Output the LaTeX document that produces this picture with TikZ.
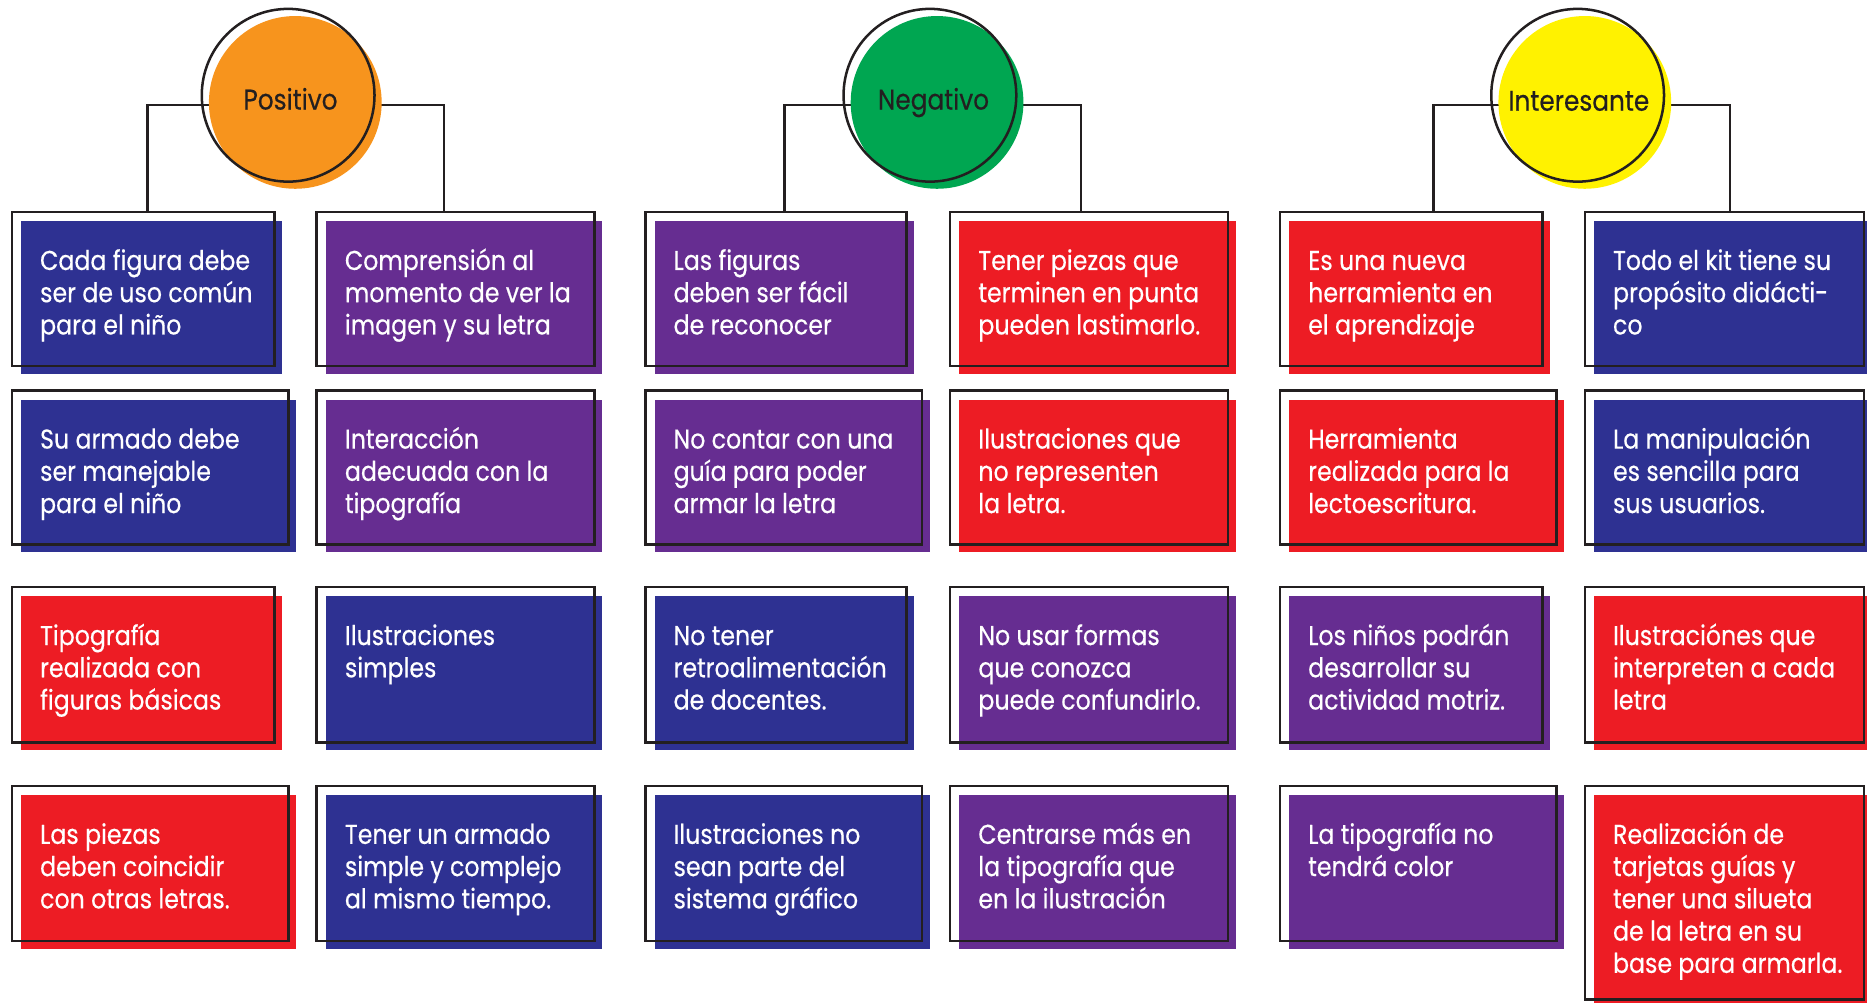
\documentclass[tikz,border=0pt]{standalone}
\usepackage{fontspec}
\setmainfont{Poppins}[FakeStretch=0.87, FakeBold=0.4]
\usetikzlibrary{backgrounds}
\definecolor{cblue}{HTML}{2E3192}
\definecolor{cpurple}{HTML}{662D91}
\definecolor{cred}{HTML}{ED1C24}
\definecolor{corange}{HTML}{F7941D}
\definecolor{cgreen}{HTML}{00A651}
\definecolor{cyellow}{HTML}{FFF200}
\definecolor{cink}{HTML}{231F20}
\tikzset{
  cardfill/.style={rectangle, inner sep=0pt, anchor=north west},
  cardtext/.style={inner sep=0pt, anchor=north west, text=white, align=left,
    font=\fontsize{6.5}{7.7}\selectfont},
  outline/.style={draw=cink, line width=0.6pt},
  conn/.style={draw=cink, line width=0.6pt},
  disc/.style={circle, inner sep=0pt, minimum size=1.45cm},
  ring/.style={circle, inner sep=0pt, minimum size=1.45cm, draw=cink, line width=0.6pt},
  lbl/.style={text=cink, font=\fontsize{6.8}{8}\selectfont, inner sep=0pt,
    text height=0.16cm, text depth=0cm}
}
\newcommand{\mycard}[7]{%
  \node[cardfill, fill=#6, minimum width=#4*0.01cm, minimum height=#5*0.01cm] (#1) at (#2,#3) {};
  \node[cardtext] (#1t) at ([xshift=0.16cm]#1.north west) {\rule{0pt}{0.41cm}#7};
  \draw[outline] ([shift={(-7,-7)}]#1.north west) rectangle ([shift={(-7,-7)}]#1.south east);
}
\begin{document}
\begin{tikzpicture}[x=0.01cm, y=-0.01cm]
\useasboundingbox (0,0) rectangle (1568,842);
\clip (0,0) rectangle (1568,842);
% circles
\node[disc, fill=corange] (posfill) at (248,86) {};
\node[ring] (pos) at (242,80) {};
\node[lbl] (postxt) at (244,84) {Positivo};
\node[disc, fill=cgreen] (negfill) at (787,86) {};
\node[ring] (neg) at (781,80) {};
\node[lbl] (negtxt) at (784,84) {Negativo};
\node[disc, fill=cyellow] (intfill) at (1331,86) {};
\node[ring] (int) at (1325,80) {};
\node[lbl] (inttxt) at (1326,85) {Interesante};
% connector ends
\coordinate (posL) at (124,178);
\coordinate (posR) at (373,178);
\coordinate (negL) at (659,178);
\coordinate (negR) at (908,178);
\coordinate (intL) at (1204,178);
\coordinate (intR) at (1453,178);
\begin{pgfonlayer}{background}
\draw[conn] ([yshift=-0.02cm]posfill.center) -| (posL);
\draw[conn] ([yshift=-0.02cm]posfill.center) -| (posR);
\draw[conn] ([yshift=-0.02cm]negfill.center) -| (negL);
\draw[conn] ([yshift=-0.02cm]negfill.center) -| (negR);
\draw[conn] ([yshift=-0.02cm]intfill.center) -| (intL);
\draw[conn] ([yshift=-0.02cm]intfill.center) -| (intR);
\end{pgfonlayer}
% row 1
\mycard{a1}{17}{185}{219}{128}{cblue}{Cada figura debe\\ser de uso común\\para el niño}
\mycard{b1}{273}{185}{232}{128}{cpurple}{Comprensión al\\momento de ver la\\imagen y su letra}
\mycard{c1}{549}{185}{218}{128}{cpurple}{Las figuras\\deben ser fácil\\de reconocer}
\mycard{d1}{805}{185}{232}{128}{cred}{Tener piezas que\\terminen en punta\\pueden lastimarlo.}
\mycard{e1}{1082}{185}{219}{128}{cred}{Es una nueva\\herramienta en\\el aprendizaje}
\mycard{f1}{1338}{185}{233}{128}{cblue}{Todo el kit tiene su\\propósito didácti-\\co}
% row 2
\mycard{a2}{17}{335}{231}{128}{cblue}{Su armado debe\\ser manejable\\para el niño}
\mycard{b2}{273}{335}{232}{128}{cpurple}{Interacción\\adecuada con la\\tipografía}
\mycard{c2}{549}{335}{231}{128}{cpurple}{No contar con una\\guía para poder\\armar la letra}
\mycard{d2}{805}{335}{232}{128}{cred}{Ilustraciones que\\no representen\\la letra.}
\mycard{e2}{1082}{335}{231}{128}{cred}{Herramienta\\realizada para la\\lectoescritura.}
\mycard{f2}{1338}{335}{233}{128}{cblue}{La manipulación\\es sencilla para\\sus usuarios.}
% row 3
\mycard{a3}{17}{500}{219}{129}{cred}{Tipografía\\realizada con\\figuras básicas}
\mycard{b3}{273}{500}{232}{129}{cblue}{Ilustraciones\\simples}
\mycard{c3}{549}{500}{218}{129}{cblue}{No tener\\retroalimentación\\de docentes.}
\mycard{d3}{805}{500}{232}{129}{cpurple}{No usar formas\\que conozca\\puede confundirlo.}
\mycard{e3}{1082}{500}{219}{129}{cpurple}{Los niños podrán\\desarrollar su\\actividad motriz.}
\mycard{f3}{1338}{500}{233}{129}{cred}{Ilustraciónes que\\interpreten a cada\\letra}
% row 4
\mycard{a4}{17}{667}{231}{129}{cred}{Las piezas\\deben coincidir\\con otras letras.}
\mycard{b4}{273}{667}{232}{129}{cblue}{Tener un armado\\simple y complejo\\al mismo tiempo.}
\mycard{c4}{549}{667}{231}{129}{cblue}{Ilustraciones no\\sean parte del\\sistema gráfico}
\mycard{d4}{805}{667}{232}{129}{cpurple}{Centrarse más en\\la tipografía que\\en la ilustración}
\mycard{e4}{1082}{667}{231}{129}{cpurple}{La tipografía no\\tendrá color}
\mycard{f4}{1338}{667}{233}{178}{cred}{Realización de\\tarjetas guías y\\tener una silueta\\de la letra en su\\base para armarla.}
\end{tikzpicture}
\end{document}
